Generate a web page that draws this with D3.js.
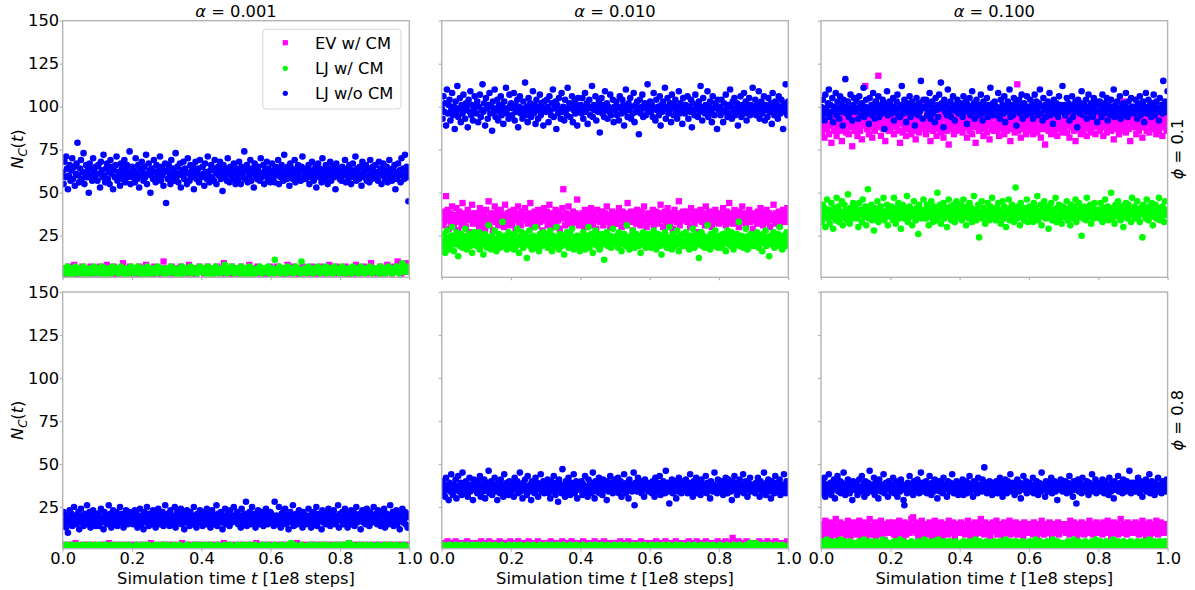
<!DOCTYPE html>
<html>
<head>
<meta charset="utf-8">
<script src="https://cdn.jsdelivr.net/npm/d3@7"></script>
<style>
  body { margin: 0; background: #fff; }
  svg { display: block; font-family: "DejaVu Sans", sans-serif; }
</style>
</head>
<body>
<svg id="chart" width="1195" height="590"></svg>
<script>
// Column / row labels, legend entries and axis ticks
const alphas = ["0.001", "0.010", "0.100"];
const phis = ["0.1", "0.8"];
const seriesNames = ["EV w/ CM", "LJ w/ CM", "LJ w/o CM"];
const xTicks = [0, 0.2, 0.4, 0.6, 0.8, 1.0];
const yTicks = [25, 50, 75, 100, 125, 150];

// N_C(t) samples, evenly spaced over t in [0, 1] (1e8 steps)
// alpha = 0.001, phi = 0.1
const ev_a001_phi01 = [
4,6,3,5,2,7,4,5,3,6,8,4,2,5,6,3,4,7,5,3,6,4,2,5,7,4,3,6,5,4,
3,5,7,4,6,2,5,4,8,3,5,6,4,3,7,5,2,4,6,5,3,4,9,5,4,6,3,5,7,4,
5,3,6,4,2,5,7,4,6,3,5,4,8,5,3,6,4,2,5,7,4,3,6,5,4,3,5,10,4,6,
3,5,4,6,7,3,5,4,2,6,5,4,7,3,5,6,4,3,5,8,4,6,3,5,4,2,6,5,7,4,
5,4,3,6,5,7,4,2,5,6,3,4,5,7,4,6,3,5,4,9,5,3,6,4,5,2,7,4,5,3,
6,4,5,3,7,5,4,6,2,5,4,8,3,5,6,4,5,3,7,4,5,6,3,4,5,2,6,4,5,7,
4,3,5,6,4,7,5,3,4,6,5,2,4,5,8,3,6,4,5,7,3,5,4,6,2,5,4,7,5,3,
5,6,4,3,5,7,4,5,2,6,4,5,3,7,5,4,6,3,5,4,8,5,3,6,4,5,7,3,4,5,
6,4,3,5,7,4,5,2,6,5,4,3,6,8,5,4,3,5,6,4,7,5,3,4,6,5,9,4,3,5,
4,6,5,3,7,4,5,6,3,4,8,5,4,6,3,5,7,4,5,10,4,6,3,5,4,7,5,9,4,6];
const ljcm_a001_phi01 = [
5,3,6,4,7,5,2,4,6,5,3,7,4,5,6,3,4,5,7,4,2,6,5,3,4,6,5,7,3,4,
6,4,5,3,7,4,6,2,5,4,6,5,3,7,4,5,6,4,3,5,7,4,5,3,6,4,2,5,6,7,
4,5,3,6,4,7,5,3,4,6,5,2,4,7,5,6,3,4,5,6,4,3,7,5,4,6,5,3,4,5,
6,3,5,7,4,5,6,3,4,5,2,6,4,7,5,3,6,4,5,4,7,3,5,6,4,5,3,6,7,4,
5,4,6,3,5,7,4,2,6,5,4,3,7,5,6,4,3,5,4,6,8,5,3,4,6,5,7,4,3,5,
4,6,5,3,7,4,5,6,2,4,5,7,3,6,5,4,3,5,6,4,7,5,3,4,6,5,4,7,3,5,
6,4,3,11,5,6,4,7,3,5,4,6,5,3,7,4,5,6,4,3,5,7,4,6,5,3,10,4,5,6,
3,5,7,4,6,5,3,4,6,5,7,4,3,5,6,4,5,7,3,4,6,5,4,3,7,5,6,4,5,3,
5,7,4,6,3,5,4,6,5,3,7,4,5,6,4,3,5,7,4,6,5,3,4,6,5,7,4,3,5,6,
4,6,5,3,7,5,4,6,3,5,4,7,6,5,3,4,6,5,7,4,3,6,5,9,4,6,5,7,4,5];
const ljfree_a001_phi01 = [
62,55,68,59,71,64,52,60,66,57,63,70,58,65,54,61,67,79,60,56,64,69,58,62,73,55,61,66,59,63,50,67,60,64,57,70,62,58,65,61,
57,66,61,53,68,63,59,72,60,56,64,67,58,62,55,69,61,65,52,63,59,66,71,57,62,60,54,67,64,58,61,69,56,63,66,59,62,74,55,60,
65,59,63,56,70,61,58,66,53,64,60,68,62,57,65,59,72,55,61,67,63,50,60,64,58,69,62,56,66,61,59,63,71,57,65,60,54,62,67,44,
63,58,66,61,55,69,60,64,57,62,73,59,65,56,61,67,53,63,60,68,58,64,62,55,70,61,57,66,59,63,65,52,61,68,58,62,64,56,69,60,
59,65,61,54,67,62,58,71,60,56,63,66,59,64,57,69,62,55,61,65,60,68,58,63,51,66,61,59,64,57,70,62,56,65,60,63,58,67,61,55,
64,60,57,68,62,55,65,61,59,74,58,63,66,56,62,60,69,57,64,61,53,67,60,63,58,65,62,57,70,59,61,66,55,63,60,68,58,64,62,56,
61,67,58,63,56,65,60,62,69,55,64,59,66,61,57,72,60,63,58,65,62,54,67,60,64,58,61,69,56,63,60,66,59,62,57,65,71,58,63,60,
58,64,61,66,55,62,59,68,63,57,60,65,53,62,67,59,64,61,56,70,60,63,58,66,62,55,64,60,68,57,61,65,59,63,52,67,60,62,64,58,
63,57,65,60,62,69,56,61,64,58,66,60,55,63,67,59,62,71,57,64,60,58,65,61,54,68,62,59,63,66,57,60,64,56,69,61,58,65,62,60,
66,59,62,57,68,61,64,55,60,67,63,58,62,65,56,61,69,59,63,57,64,60,66,52,62,58,67,61,63,56,70,60,64,58,72,61,65,59,45,63];

// alpha = 0.010, phi = 0.1
const ev_a010_phi01 = [
35,31,39,33,37,48,34,40,29,36,38,32,42,35,30,37,33,41,36,28,39,34,37,31,44,35,33,38,30,36,40,34,27,37,35,43,32,38,34,36,
33,38,35,30,41,36,32,39,34,37,29,40,35,33,45,31,36,38,34,28,37,42,33,35,39,31,36,34,40,32,37,35,30,43,36,33,38,35,31,39,
37,32,36,40,34,29,38,35,42,33,36,31,39,35,37,26,41,34,36,32,38,35,44,33,37,30,35,39,34,36,31,40,35,33,38,36,28,37,41,34,
34,39,31,36,43,35,33,38,30,37,35,40,32,36,34,39,29,37,35,41,52,36,31,38,35,34,42,32,37,35,30,39,36,33,38,34,46,35,31,37,
36,33,38,35,30,40,34,37,32,39,35,33,41,36,31,38,34,36,29,40,35,35,33,37,34,39,31,36,38,35,42,33,37,34,30,36,39,35,32,38,
35,38,32,36,41,34,37,30,39,35,33,38,36,31,44,35,37,33,39,34,28,36,38,35,32,40,36,34,37,31,39,35,33,42,36,34,30,38,35,37,
33,37,35,40,31,36,34,39,35,32,38,36,43,34,37,30,35,39,33,36,41,34,37,32,38,35,29,36,40,34,37,33,35,45,31,38,36,34,39,35,
36,34,39,33,37,35,30,41,36,34,38,32,35,39,36,27,37,34,40,35,33,38,36,31,42,35,37,33,39,34,36,30,38,35,33,40,36,34,37,32,
38,33,36,35,41,34,37,31,39,35,33,44,36,34,38,32,35,40,36,33,37,35,30,39,34,36,42,33,38,35,31,37,36,34,40,33,35,38,29,36,
34,37,35,32,39,36,33,41,35,37,31,38,34,36,40,33,35,38,30,37,36,34,43,35,32,38,36,34,39,31,37,35,33,40,36,34,38,35,41,33];
const ljcm_a010_phi01 = [
22,18,26,20,15,24,28,21,17,23,19,25,30,21,16,24,20,27,22,13,23,19,26,21,18,25,22,29,20,17,24,21,26,19,23,15,22,27,20,24,
19,24,21,27,17,22,25,20,14,23,26,21,18,24,31,20,22,17,25,21,19,28,23,16,22,20,26,18,24,21,33,19,23,25,20,17,22,27,21,18,
25,20,23,17,26,22,19,29,21,15,24,20,27,22,18,23,26,20,12,24,21,28,19,23,17,25,22,20,30,18,24,21,16,26,22,19,23,27,20,24,
21,26,18,23,20,28,22,16,25,21,19,24,30,20,23,17,26,22,19,25,21,14,24,20,27,23,18,22,26,20,29,21,17,24,22,19,25,21,23,16,
24,19,22,27,21,17,25,20,23,30,18,22,26,21,15,24,20,28,22,19,25,21,17,23,26,20,22,11,24,21,27,19,23,20,25,18,22,29,21,24,
20,25,22,18,27,21,23,16,24,20,26,22,19,31,21,24,17,22,25,20,28,23,18,21,26,20,24,19,22,15,25,21,27,20,23,18,24,22,26,19,
23,18,25,21,28,20,22,17,24,26,21,19,23,14,25,22,20,27,21,18,24,23,30,20,22,17,26,21,19,24,22,28,20,16,23,25,21,19,26,22,
21,27,19,24,22,17,25,20,23,29,21,18,26,22,20,24,12,23,21,27,19,25,22,18,24,21,31,20,23,17,26,22,19,25,21,28,20,24,18,23,
25,20,23,18,26,21,24,16,22,28,20,25,21,19,27,23,17,22,24,20,26,21,33,19,23,25,20,18,24,22,29,21,17,25,20,23,26,19,22,21,
19,24,22,27,20,18,25,21,23,16,26,22,20,28,19,24,21,13,23,25,20,22,27,18,24,21,19,26,22,30,20,23,17,25,21,24,19,27,22,20];
const ljfree_a010_phi01 = [
99,93,106,97,102,89,110,96,101,104,92,98,108,95,100,87,103,97,112,94,99,105,91,101,96,107,98,93,102,100,88,104,97,109,95,101,92,98,106,100,
96,103,91,100,107,94,98,113,97,102,89,105,99,93,101,108,96,100,86,103,97,110,94,99,104,92,101,97,106,95,100,90,103,98,111,96,99,93,107,101,
102,95,99,108,92,101,97,104,88,100,106,96,99,93,103,98,114,95,100,91,105,97,102,94,99,109,96,101,90,104,98,93,100,107,95,102,97,89,103,99,
97,104,100,91,106,98,95,102,110,94,99,103,87,101,96,105,99,93,108,97,100,92,104,98,95,111,99,102,94,100,106,91,98,103,96,101,89,105,99,97,
101,96,105,93,99,108,97,102,90,100,104,95,99,112,94,101,98,106,92,100,97,103,85,99,105,96,101,94,109,98,102,93,100,97,107,95,99,104,91,100,
98,103,95,100,92,106,99,96,104,101,89,97,110,99,94,102,98,105,93,100,96,108,91,101,97,103,99,84,104,96,100,107,94,99,102,95,101,113,97,99,
103,97,101,94,108,99,92,104,98,100,95,106,89,101,97,103,99,111,93,100,105,96,98,102,91,107,99,95,101,104,97,93,100,109,96,102,98,90,105,99,
96,101,99,106,93,100,97,104,88,102,98,95,107,99,101,94,103,97,112,100,92,105,98,96,101,99,109,94,100,103,97,91,106,99,95,102,100,87,104,98,
100,95,104,98,91,102,97,107,99,94,101,96,110,100,93,103,98,105,95,99,102,89,100,97,106,94,101,99,108,96,103,92,100,98,105,95,101,97,111,99,
98,104,95,101,97,109,93,100,103,96,99,106,92,101,98,94,105,100,97,102,90,108,99,95,103,98,101,93,106,100,96,104,99,87,102,97,113,100,95,103];

// alpha = 0.100, phi = 0.1
const ev_a100_phi01 = [
91,85,96,88,82,93,99,87,90,84,95,89,79,92,97,86,90,94,83,88,101,91,86,93,80,89,96,87,92,85,98,90,84,91,88,95,77,93,89,86,
94,88,83,91,97,86,90,81,95,89,92,112,99,87,91,84,93,88,96,82,90,94,86,103,89,92,118,97,88,83,91,95,87,90,80,93,89,98,86,92,
87,93,89,96,84,91,91,88,94,86,92,79,97,90,85,93,88,100,83,91,95,87,89,92,84,98,90,86,94,81,91,88,96,85,93,89,102,87,92,90,
89,84,95,91,87,93,80,90,97,86,92,88,94,83,90,99,87,91,85,96,89,82,93,88,95,86,91,78,94,89,87,92,97,84,90,93,86,101,88,91,
92,87,90,85,98,91,88,94,82,89,96,86,93,90,84,97,88,91,79,95,89,92,86,100,87,93,90,83,96,88,91,85,94,89,81,92,98,87,90,86,
88,94,86,91,97,83,90,88,87,95,89,84,93,91,86,99,88,92,80,90,96,87,94,85,91,89,113,86,93,88,82,95,90,87,97,89,84,92,88,94,
91,86,93,89,84,96,90,87,101,85,92,88,95,82,90,94,87,91,78,93,89,97,86,92,90,84,98,88,93,86,91,95,83,90,87,99,89,92,85,91,
87,93,90,85,97,89,82,94,91,88,96,86,92,80,90,95,87,93,89,84,100,91,86,94,88,92,83,97,90,87,93,85,91,98,88,90,84,95,89,92,
90,86,95,88,92,83,97,89,91,85,94,87,90,99,86,93,88,81,92,90,96,87,91,84,95,89,92,86,103,88,90,85,94,91,87,93,80,96,89,92,
93,88,91,84,97,90,86,95,89,92,82,94,88,91,98,86,90,93,85,96,89,87,92,100,88,91,84,95,90,86,93,89,97,83,91,88,94,90,86,92];
const ljcm_a100_phi01 = [
38,33,43,36,41,30,39,46,35,40,32,37,44,36,29,41,38,34,47,37,42,33,39,35,45,31,38,43,36,40,34,49,37,32,41,38,35,44,39,36,
41,35,38,30,44,37,40,33,46,38,36,42,31,39,52,35,40,37,43,34,38,28,41,36,39,45,33,40,37,42,35,38,47,34,39,36,43,31,40,38,
36,42,39,34,47,37,32,41,38,44,35,40,29,37,43,39,35,41,36,48,33,38,42,36,40,31,39,45,37,34,41,38,26,43,36,40,35,39,46,37,
40,35,43,38,31,41,36,45,39,33,42,37,40,34,50,38,36,43,32,40,37,44,35,39,41,30,38,46,36,42,34,40,37,43,33,39,45,36,41,38,
37,43,34,40,46,36,39,31,42,38,35,44,37,41,33,39,48,36,40,34,38,43,24,39,37,45,35,41,38,32,40,36,44,39,34,42,37,47,35,40,
39,34,41,37,44,36,40,32,38,45,35,42,37,30,40,39,46,34,41,36,43,38,33,40,53,37,35,42,39,31,44,36,40,38,34,41,37,46,33,39,
42,37,35,40,33,44,38,41,36,48,34,39,37,43,31,40,36,45,38,35,42,39,29,41,37,44,34,40,38,36,47,33,41,37,43,35,39,32,42,38,
36,41,38,45,34,40,37,31,43,39,35,42,38,46,33,40,37,44,36,41,25,39,35,42,38,34,47,37,40,36,43,32,39,41,35,44,38,36,40,37,
40,35,44,38,33,41,37,46,36,39,42,34,40,37,50,35,41,38,32,43,39,36,45,37,40,34,42,38,30,41,36,44,39,35,43,37,40,33,47,38,
37,42,35,40,45,36,39,33,41,38,24,43,37,40,35,46,38,34,42,39,36,44,31,40,37,43,35,41,38,47,34,39,36,42,38,33,45,37,40,39];
const ljfree_a100_phi01 = [
100,95,104,98,92,107,99,96,102,110,94,101,97,105,91,100,98,108,95,103,99,93,106,97,101,89,104,98,116,96,100,103,94,99,107,97,92,101,105,98,
97,103,99,93,106,100,95,102,98,111,94,100,104,96,99,90,105,98,101,95,108,99,93,103,97,100,106,94,101,98,96,104,99,87,102,97,109,95,100,103,
101,96,99,105,92,100,97,103,107,95,99,94,101,112,98,96,104,99,91,102,97,100,106,94,99,103,96,101,89,98,105,100,95,102,97,115,99,93,104,100,
99,104,95,101,97,108,93,100,103,96,99,91,105,98,101,94,107,99,114,102,100,88,104,97,101,95,110,99,97,103,94,100,106,98,92,101,99,104,96,100,
96,102,99,94,106,100,97,103,90,101,98,105,95,99,109,97,102,93,100,104,96,99,101,95,107,98,92,103,100,96,99,105,94,101,97,111,99,95,102,98,
103,97,100,95,108,99,93,104,98,101,96,106,91,100,97,103,99,110,94,101,98,95,105,99,102,89,100,97,104,96,101,107,93,99,102,98,95,106,100,97,
98,104,96,101,93,100,107,97,103,99,95,102,110,96,100,92,105,98,101,94,99,103,97,108,95,101,98,90,104,99,96,102,100,94,106,98,101,97,112,99,
101,95,99,105,97,102,92,100,98,106,94,101,97,103,99,88,104,100,96,102,109,98,95,101,97,104,93,100,107,99,96,102,98,94,105,100,97,103,91,101,
97,103,100,94,107,99,96,102,98,105,92,101,99,95,104,97,100,110,94,101,98,103,96,99,106,93,100,97,102,95,101,108,98,94,103,99,96,105,100,97,
100,96,104,98,93,102,99,106,95,101,97,103,91,100,108,96,99,104,97,101,94,102,98,107,95,100,103,97,99,92,105,98,101,96,115,99,103,97,100,109];

// alpha = 0.001, phi = 0.8
const ev_a001_phi08 = [
2,3,1,2,2,3,2,1,3,2,2,4,2,1,2,3,2,2,1,3,2,2,3,1,2,2,3,2,1,2,
3,2,2,1,3,2,2,3,1,2,4,2,2,3,1,2,2,3,2,1,2,3,2,2,1,3,2,2,3,2,
1,2,3,2,2,1,3,2,2,3,2,1,2,2,3,2,4,2,1,2,3,2,2,1,2,3,2,2,3,1,
2,2,3,1,2,3,2,2,1,2,3,2,2,4,1,2,2,3,2,1,3,2,2,2,3,1,2,3,2,2,
3,1,2,2,3,2,1,2,3,2,2,1,3,2,2,3,1,2,2,4,2,3,1,2,2,3,2,1,2,3,
2,2,1,3,2,2,3,1,2,2,3,2,1,2,3,2,2,4,1,2,3,2,2,1,3,2,2,3,2,1,
2,3,2,1,2,3,2,2,1,3,2,2,3,1,2,2,3,2,2,1,3,2,4,2,1,2,3,2,2,3,
1,2,2,3,2,1,3,2,2,3,1,2,2,3,2,2,1,3,2,2,3,1,2,2,3,2,1,2,3,2,
2,3,1,2,2,3,2,4,1,2,3,2,2,1,3,2,2,3,1,2,2,3,2,1,2,3,2,2,1,3,
2,2,3,1,2,3,2,2,1,3,2,2,3,2,1,2,3,2,2,1,3,2,2,3,1,2,2,3,2,2];
const ljcm_a001_phi08 = [
2,1,2,3,2,1,2,2,3,1,2,2,1,3,2,2,1,2,3,2,1,2,2,3,1,2,2,1,3,2,
1,2,3,2,1,2,2,3,1,2,2,1,3,2,2,1,2,3,2,1,2,2,3,1,2,1,2,3,2,2,
2,1,2,2,3,1,2,2,1,3,2,1,2,2,3,2,1,2,2,1,3,2,2,1,2,3,1,2,2,1,
3,2,1,2,2,1,3,2,2,1,2,3,1,2,2,1,2,3,2,1,2,2,1,3,2,2,1,2,3,1,
2,2,1,3,2,1,2,2,3,1,2,2,1,2,3,2,1,2,2,1,3,2,2,1,2,3,2,1,2,2,
1,3,2,2,1,2,3,2,1,2,2,3,1,2,2,1,3,2,2,1,2,2,3,1,2,2,1,3,2,2,
2,1,2,3,2,2,1,2,2,3,1,2,2,1,3,2,2,4,1,2,3,2,2,1,2,2,3,1,2,2,
2,2,1,3,2,1,2,2,3,1,2,2,1,3,2,2,1,2,3,2,1,2,2,1,3,2,2,1,2,3,
1,2,2,3,2,1,2,4,2,1,3,2,2,1,2,2,3,1,2,2,1,3,2,2,1,2,3,2,1,2,
2,1,3,2,2,1,2,2,3,1,2,2,1,3,2,2,1,2,3,2,2,1,2,2,3,1,2,2,1,2];
const ljfree_a001_phi08 = [
18,22,15,20,13,17,10,19,23,16,21,14,18,25,17,20,15,19,22,12,18,24,16,20,14,19,21,17,26,15,18,22,13,20,17,23,16,19,14,21,
17,21,14,19,24,16,18,12,22,17,20,15,19,26,16,21,13,18,23,17,15,20,22,14,19,17,25,16,21,18,13,20,16,23,19,15,18,22,17,20,
20,15,18,23,16,21,13,19,17,24,15,20,18,12,22,16,19,25,17,14,21,18,20,15,23,17,19,13,21,16,24,18,15,20,17,22,14,19,26,16,
16,21,18,14,23,17,20,15,19,25,13,18,22,16,20,17,24,15,19,21,12,18,16,23,20,17,14,22,18,19,15,25,17,20,13,21,16,18,23,19,
19,14,22,17,20,15,24,18,16,21,13,19,23,17,15,20,18,26,14,21,17,19,22,16,12,20,18,24,15,19,21,17,14,23,18,16,20,25,17,19,
17,22,15,20,18,13,24,16,19,21,17,28,14,20,18,22,15,19,25,16,21,17,13,20,18,23,15,19,16,22,18,14,21,17,24,19,15,20,17,22,
21,16,19,14,28,18,20,15,17,25,19,13,21,16,22,18,24,15,20,17,12,19,22,16,18,26,14,20,17,21,15,19,23,16,18,20,13,22,17,19,
15,20,18,24,16,19,13,21,17,22,15,20,25,14,18,21,17,19,12,23,16,20,18,15,22,17,24,19,14,21,18,16,23,20,15,19,17,26,13,21,
20,17,22,15,19,24,16,21,13,18,20,17,23,15,19,22,14,18,25,16,20,17,21,12,19,23,16,18,21,15,24,17,20,14,22,18,16,19,25,17,
18,21,15,23,17,19,14,22,16,20,24,13,18,21,17,15,20,26,16,19,22,14,18,17,23,15,20,19,12,21,17,24,16,18,22,15,20,13,19,21];

// alpha = 0.010, phi = 0.8
const ev_a010_phi08 = [
3,2,4,3,2,5,3,2,3,4,2,3,5,2,3,4,3,2,4,3,2,3,5,3,2,4,3,2,3,4,
2,4,3,3,5,2,3,4,2,3,3,5,2,4,3,2,3,4,3,2,5,3,2,4,3,3,2,4,3,5,
3,2,4,3,2,3,5,3,2,4,3,2,3,4,2,5,3,3,2,4,3,2,3,5,2,3,4,3,2,3,
4,3,2,3,5,3,2,4,3,2,3,4,3,2,5,3,2,3,4,2,3,3,5,2,4,3,2,3,4,3,
2,3,5,3,2,4,3,2,3,4,3,2,5,3,3,2,4,3,2,3,5,2,3,4,3,2,3,4,2,3,
3,4,2,3,5,3,2,4,3,3,2,5,3,2,4,3,2,3,4,3,2,3,5,2,3,4,3,2,3,4,
2,3,4,3,2,5,3,3,2,4,3,2,3,5,2,3,4,3,2,3,4,2,5,3,3,2,4,3,2,3,
4,2,3,5,3,2,3,4,3,2,5,3,2,3,4,3,2,3,5,2,3,4,3,2,3,4,2,3,5,3,
3,2,4,3,3,5,2,3,4,3,2,7,3,2,4,3,5,2,3,4,3,2,3,5,2,3,4,3,2,4,
3,4,2,3,5,3,2,4,3,2,3,5,3,2,4,3,3,2,5,3,2,4,3,2,3,4,3,2,5,3];
const ljcm_a010_phi08 = [
2,1,3,2,2,1,2,3,2,1,2,2,3,1,2,2,1,3,2,2,1,2,3,2,1,2,2,3,1,2,
2,3,1,2,2,1,3,2,2,1,2,3,2,1,2,2,3,1,2,2,1,2,3,2,2,1,2,2,3,1,
2,2,1,3,2,1,2,2,3,2,1,2,2,1,3,2,2,1,2,3,2,1,2,2,1,3,2,2,1,2,
3,1,2,2,1,3,2,2,1,2,3,2,1,2,2,3,1,2,2,1,2,3,2,1,2,2,3,1,2,2,
1,2,3,2,1,2,2,1,3,2,2,1,2,3,2,1,2,2,3,1,2,2,1,3,2,2,1,2,2,3,
2,1,2,2,3,1,2,2,1,3,2,2,1,2,2,3,1,2,2,1,3,2,2,1,2,3,2,1,2,2,
1,3,2,2,1,2,3,2,1,2,2,3,1,2,2,1,3,2,2,1,2,2,3,1,2,2,1,3,2,2,
2,2,1,3,2,1,2,2,3,1,2,2,1,2,3,2,1,2,2,3,1,2,2,1,3,2,2,1,2,2,
3,1,2,2,1,2,3,2,2,1,2,2,3,1,2,2,1,3,2,2,1,2,2,3,1,2,4,2,1,2,
2,4,1,3,2,1,2,2,3,1,2,2,1,3,2,2,1,2,2,3,1,2,2,1,3,2,2,1,2,2];
const ljfree_a010_phi08 = [
36,40,33,38,31,42,35,37,29,39,34,44,36,32,38,35,41,30,37,43,34,36,39,32,45,35,38,33,40,36,31,37,42,34,38,36,29,41,35,39,
37,33,40,35,43,31,38,36,34,41,30,37,39,35,46,33,36,40,32,38,35,42,34,37,29,39,36,33,41,35,38,31,44,36,34,39,37,32,40,35,
34,39,36,31,42,37,35,40,33,38,45,34,36,30,39,35,41,37,32,43,36,34,38,29,40,35,37,33,42,36,39,31,38,35,44,34,37,40,33,36,
38,35,41,33,37,30,40,36,34,43,37,32,39,35,28,41,36,38,33,47,35,37,31,40,36,34,42,38,32,39,35,37,44,33,36,40,30,38,35,37,
35,40,32,38,36,43,34,37,31,41,35,39,33,37,45,36,30,40,34,38,36,42,33,37,39,32,41,35,36,38,29,40,34,37,43,35,39,33,36,41,
39,34,37,42,33,36,40,31,38,35,44,37,33,39,36,30,41,35,38,34,37,45,26,39,36,34,42,37,35,40,33,38,36,31,41,37,35,39,34,38,
36,38,33,40,35,31,42,37,34,39,36,43,32,38,35,40,37,33,46,36,39,34,27,38,36,41,33,37,35,40,30,38,34,42,36,39,33,37,35,40,
35,41,37,33,39,36,44,34,38,31,40,36,35,42,33,37,39,35,32,41,37,34,38,36,43,33,39,35,37,30,40,36,34,38,45,35,37,33,41,36,
38,34,40,36,32,39,35,42,37,33,41,36,38,34,29,40,36,43,35,37,32,39,36,41,34,38,35,44,33,37,40,35,31,39,36,42,34,38,36,35,
37,33,39,35,42,36,31,40,37,34,38,45,35,32,39,36,41,34,37,30,40,36,38,33,43,35,39,34,37,41,32,38,36,35,44,37,33,40,36,38];

// alpha = 0.100, phi = 0.8
const ev_a100_phi08 = [
11,15,8,13,10,17,12,9,14,11,16,7,12,10,15,13,9,18,11,14,8,12,16,10,13,11,6,15,12,9,14,17,10,12,8,15,11,13,16,10,
13,9,15,11,17,12,8,14,10,16,12,13,7,15,11,10,18,12,14,9,13,11,16,8,12,15,10,14,11,17,9,13,12,6,15,11,14,10,16,12,
10,14,12,16,9,13,11,8,15,12,17,10,14,11,13,7,16,12,9,14,11,15,10,13,18,12,19,14,11,16,10,13,8,15,12,11,17,9,14,12,
14,11,9,15,12,16,10,13,8,14,11,17,12,9,15,10,13,12,16,11,8,14,12,10,15,13,9,17,11,14,12,10,16,13,7,12,15,11,14,10,
12,16,10,13,11,15,9,14,12,17,10,13,8,15,11,14,12,16,9,13,11,15,10,12,18,14,11,13,9,16,12,10,14,11,15,8,13,12,16,11,
11,13,17,9,14,12,10,15,11,13,8,16,12,14,10,13,11,17,9,15,12,10,14,11,16,13,9,12,15,10,14,11,13,8,16,12,15,10,13,11,
15,10,12,14,9,16,11,13,12,8,15,11,14,10,17,12,13,9,15,11,14,12,10,16,13,11,7,14,12,15,10,13,11,16,9,14,12,11,15,13,
12,14,10,15,11,13,9,17,12,14,11,16,10,13,12,8,15,11,14,10,16,12,13,9,15,11,14,12,10,17,13,11,15,9,14,12,10,16,11,13,
10,15,12,13,9,16,11,14,12,10,17,13,11,15,8,14,12,16,10,13,11,15,9,14,12,18,11,13,10,15,12,14,9,16,11,13,12,15,10,14,
13,11,16,10,14,12,9,15,11,13,17,10,14,12,8,15,11,13,16,9,14,12,10,15,13,11,17,12,9,14,11,16,10,13,12,15,11,14,10,13];
const ljcm_a100_phi08 = [
3,5,2,4,3,6,2,4,5,3,2,4,3,5,2,3,4,6,3,2,5,3,4,2,3,5,4,3,2,4,
4,2,3,5,3,4,2,6,3,4,2,3,5,3,2,4,3,5,2,4,3,2,4,6,3,2,5,3,4,2,
3,4,2,5,3,2,4,3,6,2,3,5,4,2,3,4,3,2,5,3,4,2,3,4,5,2,3,4,3,6,
2,3,5,3,4,2,3,5,2,4,3,6,2,3,4,3,5,2,4,3,2,5,3,4,2,3,5,4,2,3,
4,3,2,5,3,4,2,3,5,3,2,4,3,6,2,4,3,5,2,3,4,3,2,5,3,4,2,3,4,5,
3,2,4,3,5,2,4,3,2,6,3,4,2,5,3,2,4,3,5,2,3,4,3,2,5,4,3,2,4,3,
5,3,2,4,3,6,2,3,4,5,3,2,4,3,2,5,3,4,2,3,6,4,3,2,5,3,4,2,3,4,
2,4,3,5,2,3,4,3,6,2,4,3,5,3,2,4,3,2,5,4,3,2,4,3,5,2,3,6,3,4,
3,5,2,4,3,2,5,3,4,2,3,4,6,3,2,4,5,3,2,4,3,5,2,3,4,3,2,5,4,3,
4,2,3,5,3,4,2,3,5,2,4,3,2,6,3,4,2,5,3,3,4,2,5,3,2,4,3,5,2,4];
const ljfree_a100_phi08 = [
37,33,40,35,42,31,38,36,34,44,36,39,32,37,35,41,30,38,36,43,34,37,40,33,39,35,45,36,32,38,35,41,37,33,39,36,29,40,35,38,
35,39,32,37,41,36,34,43,35,38,31,40,36,33,39,37,46,35,38,34,36,42,32,39,35,37,30,41,36,34,38,35,44,33,37,39,36,31,40,35,
38,34,37,42,33,36,40,35,31,39,37,34,41,36,38,29,26,35,37,33,39,36,43,34,38,35,32,40,36,37,34,41,38,33,36,45,35,39,34,37,
36,40,33,38,35,43,37,32,39,36,34,41,35,38,30,37,40,34,39,36,33,42,35,38,36,31,40,37,34,39,35,44,36,33,38,35,40,37,32,39,
34,38,36,41,32,37,35,40,33,39,36,43,34,37,38,31,40,35,39,36,33,42,37,35,38,34,41,36,48,35,39,33,37,36,40,34,38,32,39,36,
37,35,40,33,38,36,42,34,39,31,37,35,41,36,33,40,38,35,44,37,34,39,36,32,38,35,41,37,34,39,30,38,36,43,35,37,40,33,38,36,
39,34,37,36,42,33,38,35,40,37,32,39,36,34,45,38,35,37,31,40,36,34,39,37,35,42,33,38,36,40,34,37,29,39,36,35,41,38,34,37,
35,40,36,33,39,37,43,34,38,36,31,40,35,38,27,37,41,34,39,36,33,42,37,35,38,34,40,36,32,39,37,35,44,36,34,38,41,33,37,36,
38,35,39,34,41,36,33,40,37,35,38,32,42,36,34,39,37,30,40,35,38,36,43,34,37,39,35,33,41,36,38,34,40,37,35,46,36,33,39,37,
36,39,34,38,35,42,37,33,40,36,31,39,37,35,41,34,38,36,44,33,37,40,35,38,32,39,36,34,42,37,35,38,33,40,36,39,34,37,41,36];

// Panel grid: rows = phi, columns = alpha; each cell lists EV w/ CM, LJ w/ CM, LJ w/o CM
const panelSeries = [
  [[ev_a001_phi01, ljcm_a001_phi01, ljfree_a001_phi01],
   [ev_a010_phi01, ljcm_a010_phi01, ljfree_a010_phi01],
   [ev_a100_phi01, ljcm_a100_phi01, ljfree_a100_phi01]],
  [[ev_a001_phi08, ljcm_a001_phi08, ljfree_a001_phi08],
   [ev_a010_phi08, ljcm_a010_phi08, ljfree_a010_phi08],
   [ev_a100_phi08, ljcm_a100_phi08, ljfree_a100_phi08]]
];

// ---- layout and styling ----
const FONT = "DejaVu Sans, sans-serif";
const FS = 16.3;
const colors = ["#ff00ff", "#00ff00", "#0000ff"];
const spineColor = "#b4b4b4";
const W = 346.6, H = 256.6;
const lefts = [62.7, 441.7, 821];
const tops = [20.7, 292];
const SQ = 6.3, R = 3.3;

const svg = d3.select("#chart");
const defs = svg.append("defs");
defs.append("clipPath").attr("id", "plot-clip")
  .append("rect").attr("x", 0).attr("y", 0).attr("width", W).attr("height", H);

const x = d3.scaleLinear().domain([0, 1]).range([0, W]);
const y = d3.scaleLinear().domain([0.8, 150]).range([H, 0]);

panelSeries.forEach((row, r) => row.forEach((series, c) => {
  const g = svg.append("g").attr("transform", `translate(${lefts[c]},${tops[r]})`);
  const plot = g.append("g").attr("clip-path", "url(#plot-clip)");

  series.forEach((vals, k) => {
    const n = vals.length;
    const t = i => i / (n - 1);
    const layer = plot.append("g").attr("fill", colors[k]);
    if (k === 0) {
      layer.selectAll("rect").data(vals).join("rect")
        .attr("x", (v, i) => x(t(i)) - SQ / 2)
        .attr("y", v => y(v) - SQ / 2)
        .attr("width", SQ).attr("height", SQ);
    } else {
      layer.selectAll("circle").data(vals).join("circle")
        .attr("cx", (v, i) => x(t(i)))
        .attr("cy", v => y(v))
        .attr("r", R);
    }
  });

  // y axis
  const yAxis = d3.axisLeft(y).tickValues(yTicks).tickSize(3).tickPadding(0.6);
  if (c > 0) yAxis.tickFormat("");
  const yg = g.append("g").call(yAxis)
    .attr("font-size", FS).attr("font-family", FONT);
  yg.select(".domain").remove();
  yg.selectAll(".tick line").attr("stroke", spineColor).attr("stroke-width", 1.2);
  yg.selectAll(".tick text").attr("fill", "#000");

  // x axis
  const xAxis = d3.axisBottom(x).tickValues(xTicks).tickSize(3).tickPadding(0.8)
    .tickFormat(r === 1 ? d3.format(".1f") : "");
  const xg = g.append("g").attr("transform", `translate(0,${H})`).call(xAxis)
    .attr("font-size", FS).attr("font-family", FONT);
  xg.select(".domain").remove();
  xg.selectAll(".tick line").attr("stroke", spineColor).attr("stroke-width", 1.2);
  xg.selectAll(".tick text").attr("fill", "#000");

  // frame
  g.append("rect").attr("x", 0).attr("y", 0).attr("width", W).attr("height", H)
    .attr("fill", "none").attr("stroke", spineColor).attr("stroke-width", 1.4);

  // column titles
  if (r === 0) {
    const tt = g.append("text").attr("x", W / 2).attr("y", -3.8)
      .attr("text-anchor", "middle").attr("font-size", FS).attr("font-family", FONT);
    tt.append("tspan").attr("font-style", "italic").text("α");
    tt.append("tspan").text(" = " + alphas[c]);
  }

  // x label
  if (r === 1) {
    const xl = g.append("text").attr("x", W / 2).attr("y", H + 35.5)
      .attr("text-anchor", "middle").attr("font-size", FS).attr("font-family", FONT);
    xl.append("tspan").text("Simulation time ");
    xl.append("tspan").attr("font-style", "italic").text("t");
    xl.append("tspan").text(" [1");
    xl.append("tspan").attr("font-style", "italic").text("e");
    xl.append("tspan").text("8 steps]");
  }

  // y label
  if (c === 0) {
    const yl = svg.append("text")
      .attr("transform", `translate(23,${tops[r] + H / 2}) rotate(-90)`)
      .attr("text-anchor", "middle").attr("font-size", FS).attr("font-family", FONT);
    yl.append("tspan").attr("font-style", "italic").text("N");
    yl.append("tspan").attr("font-style", "italic").attr("font-size", FS * 0.72).attr("dy", 3.5).text("C");
    yl.append("tspan").attr("dy", -3.5).text("(");
    yl.append("tspan").attr("font-style", "italic").text("t");
    yl.append("tspan").text(")");
  }

  // row label on the right
  if (c === 2) {
    const rl = svg.append("text")
      .attr("transform", `translate(1183,${tops[r] + H / 2}) rotate(-90)`)
      .attr("text-anchor", "middle").attr("font-size", FS).attr("font-family", FONT);
    rl.append("tspan").attr("font-style", "italic").text("ϕ");
    rl.append("tspan").text(" = " + phis[r]);
  }
}));

// legend in the first panel
const lg = svg.append("g").attr("font-family", FONT).attr("font-size", FS);
lg.append("rect").attr("x", 262.7).attr("y", 29.3).attr("width", 138.3).attr("height", 79.7)
  .attr("rx", 3.5).attr("fill", "#fff").attr("fill-opacity", 0.8)
  .attr("stroke", "#d6d6d6").attr("stroke-width", 1);
const rowsY = [42.7, 68.3, 93.3];
seriesNames.forEach((name, k) => {
  const cy = rowsY[k];
  if (k === 0) {
    lg.append("rect").attr("x", 285.3 - 2.6).attr("y", cy - 2.6)
      .attr("width", 5.2).attr("height", 5.2).attr("fill", colors[k]);
  } else {
    lg.append("circle").attr("cx", 285.3).attr("cy", cy).attr("r", 2.6).attr("fill", colors[k]);
  }
  lg.append("text").attr("x", 315).attr("y", cy).attr("dy", "0.36em").attr("fill", "#000").text(name);
});
</script>
</body>
</html>
